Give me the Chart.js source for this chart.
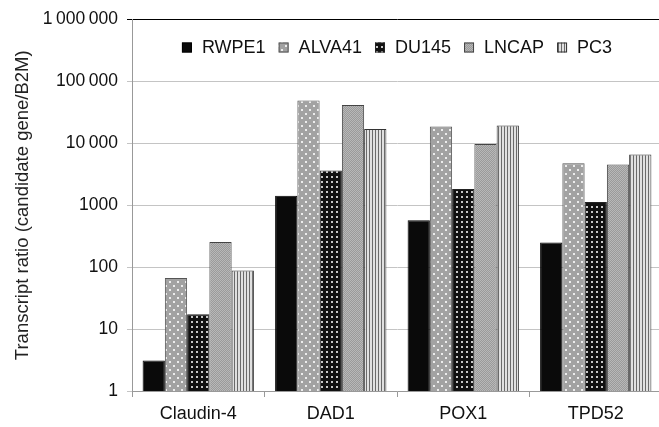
<!DOCTYPE html>
<html>
<head>
<meta charset="utf-8">
<script src="https://cdn.jsdelivr.net/npm/chart.js@4/dist/chart.umd.min.js"></script>
<style>
  html, body { margin: 0; padding: 0; background: #fff; overflow: hidden; }
  #wrap { width: 662px; height: 427px; }
</style>
</head>
<body>
<div id="wrap"><canvas id="chart" width="662" height="427"></canvas></div>
<script>
const categories = ['Claudin-4', 'DAD1', 'POX1', 'TPD52'];
const rwpe1 = [3.1, 1430, 574, 250];
const alva41 = [67, 49000, 18700, 4750];
const du145 = [17.3, 3630, 1830, 1130];
const lncap = [256, 41500, 9800, 4550];
const pc3 = [88.5, 17000, 19500, 6600];
const yTicks = [1, 10, 100, 1000, 10000, 100000, 1000000];

function makePattern(w, h, draw) {
    const c = document.createElement('canvas');
    c.width = w;
    c.height = h;
    const g = c.getContext('2d');
    draw(g);
    return g.createPattern(c, 'repeat');
}

// light gray with staggered white dots
const dotsGray = makePattern(8, 8, (g) => {
    g.fillStyle = '#a2a2a2';
    g.fillRect(0, 0, 8, 8);
    g.fillStyle = '#ececec';
    g.fillRect(1, 1, 2, 2);
    g.fillRect(5, 5, 2, 2);
});

// black with white dots
const dotsBlack = makePattern(5, 5, (g) => {
    g.fillStyle = '#111';
    g.fillRect(0, 0, 5, 5);
    g.fillStyle = '#c8c8c8';
    g.fillRect(1, 1, 2, 2);
});

// fine gray dither
const dither = makePattern(2, 2, (g) => {
    g.fillStyle = '#9a9a9a';
    g.fillRect(0, 0, 2, 2);
    g.fillStyle = '#b8b8b8';
    g.fillRect(0, 0, 1, 1);
    g.fillRect(1, 1, 1, 1);
});

// vertical stripes
const stripes = makePattern(3, 1, (g) => {
    g.fillStyle = '#e0e0e0';
    g.fillRect(0, 0, 3, 1);
    g.fillStyle = '#6a6a6a';
    g.fillRect(0, 0, 1, 1);
});

function fmt(v) {
    if (v >= 10000) {
        return String(v).replace(/\B(?=(\d{3})+(?!\d))/g, '\u2009');
    }
    return String(v);
}

const font = 'Liberation Sans, Arial, sans-serif';

// horizontal legend drawn inside the plot, near its top
const innerLegend = {
    id: 'innerLegend',
    afterDraw(chart) {
        const ctx = chart.ctx;
        const area = chart.chartArea;
        const box = 10, gap = 10, spacing = 13;
        ctx.save();
        ctx.font = '18px ' + font;
        const items = chart.data.datasets.map((ds) => ({
            ds: ds,
            w: box + gap + ctx.measureText(ds.label).width,
        }));
        const total = items.reduce((s, it) => s + it.w, 0) + spacing * (items.length - 1);
        let x = (area.left + area.right) / 2 - total / 2;
        const y = area.top + 28;
        ctx.textBaseline = 'middle';
        items.forEach((it) => {
            ctx.fillStyle = it.ds.backgroundColor;
            ctx.fillRect(x, y - box / 2, box, box);
            ctx.strokeStyle = it.ds.borderColor;
            ctx.lineWidth = 1;
            ctx.strokeRect(x + 0.5, y - box / 2 + 0.5, box - 1, box - 1);
            ctx.fillStyle = '#111';
            ctx.fillText(it.ds.label, x + box + gap, y + 1);
            x += it.w + spacing;
        });
        ctx.restore();
    },
};

new Chart(document.getElementById('chart'), {
    type: 'bar',
    data: {
        labels: categories,
        datasets: [
            { label: 'RWPE1', data: rwpe1, backgroundColor: '#0a0a0a', borderColor: '#000' },
            { label: 'ALVA41', data: alva41, backgroundColor: dotsGray, borderColor: '#555' },
            { label: 'DU145', data: du145, backgroundColor: dotsBlack, borderColor: '#222' },
            { label: 'LNCAP', data: lncap, backgroundColor: dither, borderColor: '#444' },
            { label: 'PC3', data: pc3, backgroundColor: stripes, borderColor: '#333' },
        ],
    },
    options: {
        responsive: false,
        animation: false,
        datasets: {
            bar: {
                borderWidth: 1,
                barPercentage: 1,
                categoryPercentage: 0.84,
            },
        },
        layout: { padding: { top: 19, left: 0, right: 0, bottom: 0 } },
        plugins: {
            tooltip: { enabled: false },
            legend: { display: false },
        },
        scales: {
            x: {
                grid: {
                    offset: true,
                    drawOnChartArea: false,
                    tickLength: 6,
                    color: '#999',
                },
                border: { color: '#999' },
                ticks: { color: '#111', font: { family: font, size: 18 }, padding: 6 },
                afterFit: (scale) => { scale.height = 36; },
            },
            y: {
                type: 'logarithmic',
                min: 1,
                max: 1000000,
                afterBuildTicks: (scale) => {
                    scale.ticks = yTicks.map((v) => ({ value: v }));
                },
                grid: {
                    color: (ctx) => (ctx.tick && ctx.tick.value === 1000000 ? '#000' : '#c4c4c4'),
                    tickLength: 5,
                    lineWidth: 1,
                },
                border: { color: '#999' },
                ticks: {
                    color: '#111',
                    font: { family: font, size: 17.5 },
                    padding: 9,
                    callback: (v) => fmt(v),
                },
                title: {
                    display: true,
                    text: 'Transcript ratio (candidate gene/B2M)',
                    color: '#222',
                    font: { family: font, size: 18.5 },
                    padding: { top: 12, bottom: 0 },
                },
                afterFit: (scale) => { scale.width = 132; },
            },
        },
    },
    plugins: [innerLegend],
});
</script>
</body>
</html>
